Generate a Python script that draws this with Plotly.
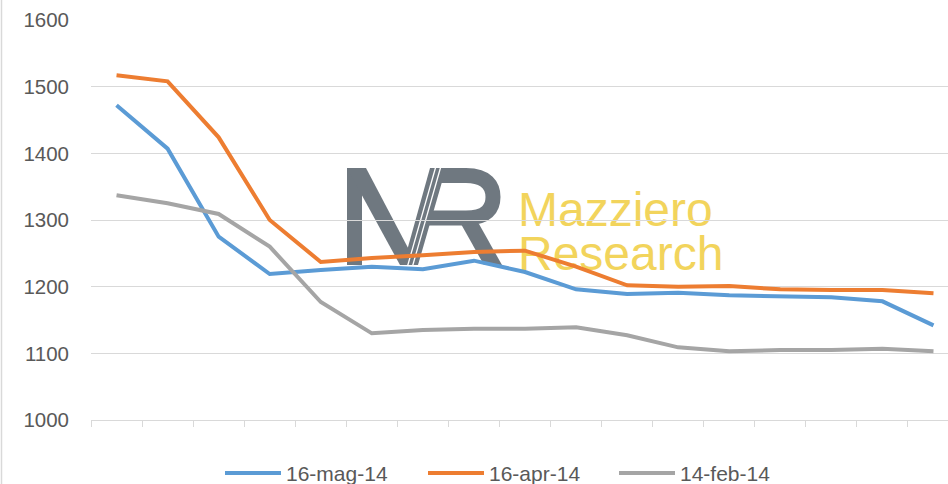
import plotly.graph_objects as go

categories = ["1", "2", "3", "4", "5", "6", "7", "8", "9", "10", "11", "12", "13", "14", "15", "16", "17"]
series_names = ["16-mag-14", "16-apr-14", "14-feb-14"]
mag_14 = [1472, 1407, 1275, 1219, 1225, 1230, 1226, 1239, 1222, 1196, 1189, 1191, 1187, 1186, 1184, 1178, 1142]
apr_14 = [1517, 1508, 1424, 1300, 1237, 1243, 1247, 1252, 1254, 1230, 1202, 1200, 1201, 1196, 1195, 1195, 1190]
feb_14 = [1337, 1325, 1309, 1260, 1177, 1130, 1135, 1137, 1137, 1139, 1127, 1109, 1103, 1105, 1105, 1107, 1103]
y_ticks = [1000, 1100, 1200, 1300, 1400, 1500, 1600]
colors = ["#5B9BD5", "#ED7D31", "#A5A5A5"]

W, H = 948, 484
ML, MR_, MT, MB = 91, 0, 20, 64
PW, PH = W - ML - MR_, H - MT - MB


def px(x):
    return (x - ML) / PW


def py(y):
    return (H - MB - y) / PH


def path(cmds):
    """Build an SVG path in paper coords from pixel-based commands."""
    out = []
    for c in cmds:
        if isinstance(c, str):
            out.append(c)
        else:
            out.append("%.5f,%.5f" % (px(c[0]), py(c[1])))
    return " ".join(out)


fig = go.Figure()
for name, vals, c in zip(series_names, [mag_14, apr_14, feb_14], colors):
    fig.add_trace(go.Scatter(x=categories, y=vals, name=name, mode="lines",
                             line=dict(color=c, width=4), showlegend=False))

font_main = "Liberation Sans, Arial, sans-serif"
txt_col = "#595959"
grid_col = "#D9D9D9"

shapes = []
annotations = []

# watermark logo (below gridlines and traces)
logo_grey = "#6F7880"
logo_yellow = "#F2D45C"
fill_polys = [
    [(347, 168), (362, 168), (362, 265), (347, 265)],            # M left stem
    [(347, 168), (366, 168), (417, 265), (400, 265)],            # M diagonal
    [(403, 265), (418, 265), (446, 168), (430, 168)],            # shared slash
    [(461, 224), (479, 224), (502, 265), (484, 265)],            # R leg
]
for poly in fill_polys:
    cmds = ["M", poly[0]]
    for p in poly[1:]:
        cmds += ["L", p]
    cmds.append("Z")
    shapes.append(dict(type="path", xref="paper", yref="paper", path=path(cmds),
                       fillcolor=logo_grey, line=dict(width=0), layer="below"))
# R bowl drawn as thick stroke
shapes.append(dict(type="path", xref="paper", yref="paper", layer="below",
                   path=path(["M", (438, 175.5), "L", (466, 175.5),
                              "C", (487, 175.5), (493, 186), (493, 197),
                              "C", (493, 208), (487, 218), (466, 218), "L", (421, 218)]),
                   line=dict(color=logo_grey, width=15), fillcolor="rgba(0,0,0,0)"))
# thin white double lines inside the slash
for off in (0, 5):
    shapes.append(dict(type="line", xref="paper", yref="paper", layer="below",
                       x0=px(407 + off), y0=py(268), x1=px(436 + off), y1=py(166),
                       line=dict(color="white", width=1.3)))

for word, cy in [("Mazziero", 204), ("Research", 248)]:
    shapes.append(dict(type="rect", xref="paper", yref="paper",
                       x0=px(505), x1=px(725), y0=py(cy + 25), y1=py(cy - 25),
                       line=dict(width=0), fillcolor="rgba(0,0,0,0)", layer="below",
                       label=dict(text=word, textposition="middle left", padding=10,
                                  font=dict(family="Liberation Sans, Arial", size=48, color=logo_yellow))))

# chart border on left edge
shapes.append(dict(type="line", xref="paper", yref="paper", x0=px(1.5), x1=px(1.5),
                   y0=py(H), y1=py(0), line=dict(color=grid_col, width=1.5)))

# custom legend
legend_items = [(225, 281), (428, 484), (619, 675)]
for (x0, x1), name, c in zip(legend_items, series_names, colors):
    shapes.append(dict(type="line", xref="paper", yref="paper", x0=px(x0), x1=px(x1),
                       y0=py(473), y1=py(473), line=dict(color=c, width=4)))
    annotations.append(dict(text=name, xref="paper", yref="paper", x=px(x1 + 3), y=py(473),
                            xanchor="left", yanchor="middle", showarrow=False,
                            font=dict(family=font_main, size=21, color=txt_col)))

fig.update_layout(
    width=W, height=H,
    margin=dict(l=ML, r=MR_, t=MT, b=MB),
    paper_bgcolor="white", plot_bgcolor="white",
    showlegend=False,
    shapes=shapes, annotations=annotations,
    xaxis=dict(type="category", range=[-0.5, -0.5 + PW / 51.06],
               tickson="boundaries", ticks="outside", ticklen=6, tickcolor=grid_col,
               showticklabels=False, showgrid=False, showline=True,
               linecolor=grid_col, linewidth=1, zeroline=False, fixedrange=True),
    yaxis=dict(range=[1000, 1600], tickvals=y_ticks, showgrid=True, gridcolor=grid_col,
               gridwidth=1, zeroline=False, showline=False, ticks="",
               ticklabelstandoff=21,
               tickfont=dict(family=font_main, size=20.5, color=txt_col)),
)

fig.write_html("out.html", config={"displayModeBar": False},
               post_script="document.body.style.margin='0px';document.body.style.overflow='hidden';")
